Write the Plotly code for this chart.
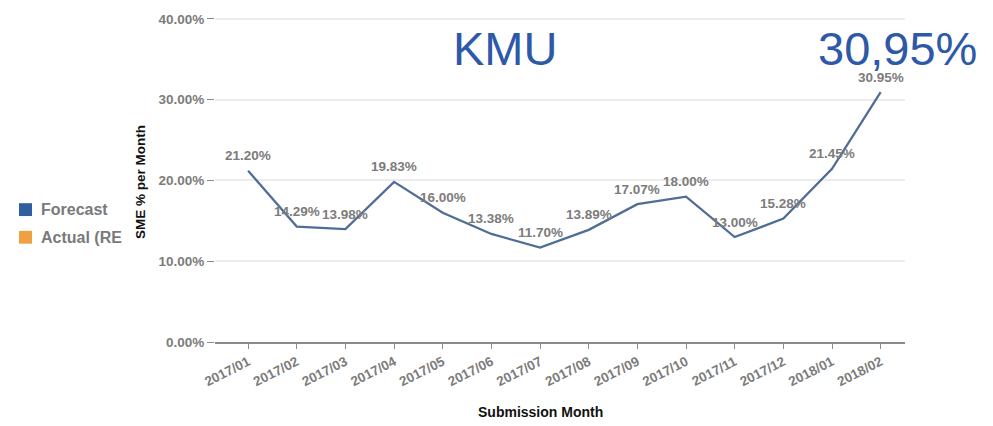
import plotly.graph_objects as go

months = ["2017/01", "2017/02", "2017/03", "2017/04", "2017/05", "2017/06", "2017/07",
          "2017/08", "2017/09", "2017/10", "2017/11", "2017/12", "2018/01", "2018/02"]
forecast = [21.20, 14.29, 13.98, 19.83, 16.00, 13.38, 11.70, 13.89, 17.07, 18.00, 13.00, 15.28, 21.45, 30.95]
y_ticks = [0, 10, 20, 30, 40]
y_ticktext = ["0.00%", "10.00%", "20.00%", "30.00%", "40.00%"]
legend_names = ["Forecast", "Actual (RE"]
legend_colors = ["#2f5f9e", "#f0a040"]

FONT = "Liberation Sans, Arial"
# plot area in page pixels (body margin removed via post_script)
PX0, PX1, PY0, PY1 = 215, 905, 12, 342
PPU = (342 - 15) / 40.0
YMAX = (PY1 - PY0) / PPU
W, H = PX1 - PX0, PY1 - PY0


def px(x):
    return (x - PX0) / W


def py(y):
    return 1 - (y - PY0) / H


fig = go.Figure()
fig.add_trace(go.Scatter(
    x=months, y=forecast, mode="lines",
    line=dict(color="#4f6d95", width=2.3), cliponaxis=False, showlegend=False,
))
for m, v in zip(months, forecast):
    fig.add_annotation(x=m, y=v, text="<b>%.2f%%</b>" % v, showarrow=False,
                       xanchor="center", yanchor="middle", yshift=15,
                       font=dict(family=FONT, size=13.5, color="#7c7c7c"))

fig.update_layout(
    width=993, height=426,
    margin=dict(l=PX0, r=993 - PX1, t=PY0, b=426 - PY1),
    paper_bgcolor="white", plot_bgcolor="white",
    font=dict(family=FONT, color="#7c7c7c"),
    xaxis=dict(type="category", range=[-0.68, 13.5], showgrid=False,
               showline=True, linecolor="#8a8a8a", linewidth=2,
               ticks="outside", ticklen=5, tickcolor="#8a8a8a",
               tickangle=-27, tickfont=dict(size=13.5, color="#7c7c7c"),
               tickvals=months, ticktext=["<b>%s</b>" % m for m in months]),
    yaxis=dict(range=[0, YMAX], tickvals=y_ticks, ticktext=["<b>%s</b>" % t for t in y_ticktext],
               showgrid=True, gridcolor="#ececec", gridwidth=2, zeroline=False,
               ticks="outside", ticklen=7, tickcolor="#8a8a8a",
               tickfont=dict(size=13.5, color="#7c7c7c")),
)

fig.add_annotation(text="KMU", xref="paper", yref="paper", x=px(505), y=py(45),
                   xanchor="center", yanchor="middle", showarrow=False,
                   font=dict(size=47, color="#2e58a8", family=FONT))
fig.add_annotation(text="30,95%", xref="paper", yref="paper", x=px(897), y=py(45),
                   xanchor="center", yanchor="middle", showarrow=False,
                   font=dict(size=47, color="#2e58a8", family=FONT))
fig.add_annotation(text="<b>SME % per Month</b>", xref="paper", yref="paper",
                   x=px(141), y=py(180), xanchor="center", yanchor="middle",
                   textangle=-90, showarrow=False,
                   font=dict(size=13.5, color="#111111", family=FONT))
fig.add_annotation(text="<b>Submission Month</b>", xref="paper", yref="paper",
                   x=px(540), y=py(413), xanchor="center", yanchor="middle", showarrow=False,
                   font=dict(size=14, color="#111111", family=FONT))
for i, (name, col) in enumerate(zip(legend_names, legend_colors)):
    yy = 208 + i * 28
    fig.add_shape(type="rect", xref="paper", yref="paper",
                  x0=px(19), x1=px(32), y0=py(yy + 6.5), y1=py(yy - 6.5),
                  fillcolor=col, line=dict(width=0))
    fig.add_annotation(text="<b>%s</b>" % name, xref="paper", yref="paper", x=px(39),
                       xanchor="left", yanchor="middle", y=py(yy), showarrow=False,
                       font=dict(size=16, color="#7a7a7a", family=FONT))

fig.write_html("out.html", config={"displayModeBar": False},
               post_script="document.body.style.margin='0';")
